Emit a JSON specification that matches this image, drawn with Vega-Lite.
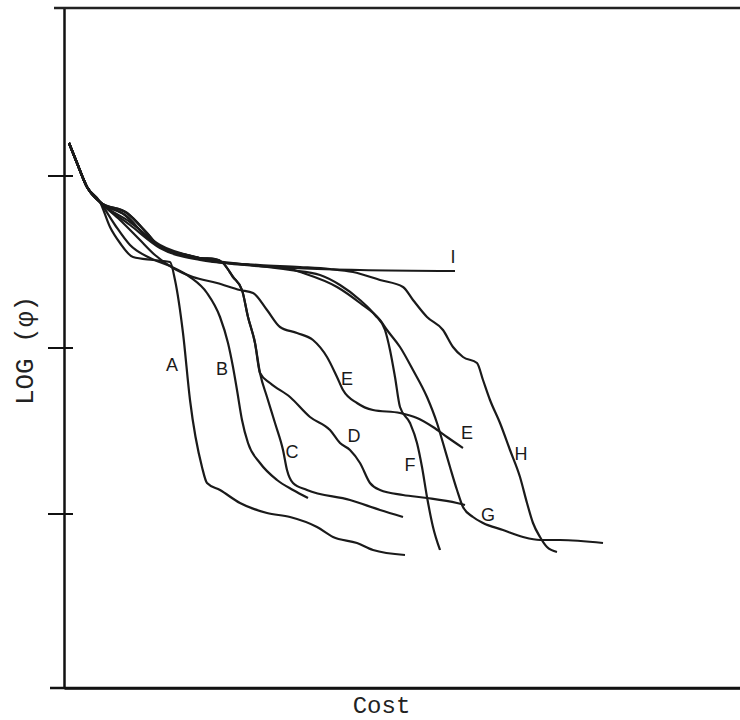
{
  "$schema": "https://vega.github.io/schema/vega-lite/v6.json",
  "width": 676,
  "height": 680,
  "autosize": {"type": "none"},
  "padding": {"left": 64, "top": 8, "right": 0, "bottom": 32},
  "background": "white",
  "view": {"stroke": null},
  "config": {"font": "Liberation Mono"},
  "datasets": {
    "curves": [
      {"c":"A","i":0,"x":5,"y":545},{"c":"A","i":1,"x":13,"y":525},{"c":"A","i":2,"x":23,"y":501},{"c":"A","i":3,"x":36,"y":486},{"c":"A","i":4,"x":46,"y":461},{"c":"A","i":5,"x":56,"y":445},{"c":"A","i":6,"x":69,"y":431},{"c":"A","i":7,"x":89,"y":428},{"c":"A","i":8,"x":106,"y":426},{"c":"A","i":9,"x":111,"y":408},{"c":"A","i":10,"x":119,"y":355},{"c":"A","i":11,"x":126,"y":288},{"c":"A","i":12,"x":138,"y":221},{"c":"A","i":13,"x":143,"y":205},{"c":"A","i":14,"x":156,"y":198},{"c":"A","i":15,"x":176,"y":185},{"c":"A","i":16,"x":203,"y":175},{"c":"A","i":17,"x":226,"y":171},{"c":"A","i":18,"x":253,"y":161},{"c":"A","i":19,"x":269,"y":151},{"c":"A","i":20,"x":293,"y":145},{"c":"A","i":21,"x":309,"y":138},{"c":"A","i":22,"x":341,"y":133},
      {"c":"B","i":0,"x":5,"y":545},{"c":"B","i":1,"x":13,"y":525},{"c":"B","i":2,"x":23,"y":501},{"c":"B","i":3,"x":36,"y":486},{"c":"B","i":4,"x":51,"y":463},{"c":"B","i":5,"x":66,"y":443},{"c":"B","i":6,"x":86,"y":430},{"c":"B","i":7,"x":106,"y":422},{"c":"B","i":8,"x":126,"y":411},{"c":"B","i":9,"x":143,"y":395},{"c":"B","i":10,"x":156,"y":371},{"c":"B","i":11,"x":164,"y":345},{"c":"B","i":12,"x":169,"y":321},{"c":"B","i":13,"x":173,"y":298},{"c":"B","i":14,"x":178,"y":268},{"c":"B","i":15,"x":184,"y":245},{"c":"B","i":16,"x":196,"y":225},{"c":"B","i":17,"x":213,"y":208},{"c":"B","i":18,"x":229,"y":198},{"c":"B","i":19,"x":244,"y":190},
      {"c":"C","i":0,"x":5,"y":545},{"c":"C","i":1,"x":13,"y":525},{"c":"C","i":2,"x":23,"y":501},{"c":"C","i":3,"x":36,"y":486},{"c":"C","i":4,"x":61,"y":473},{"c":"C","i":5,"x":86,"y":448},{"c":"C","i":6,"x":106,"y":436},{"c":"C","i":7,"x":136,"y":430},{"c":"C","i":8,"x":151,"y":429},{"c":"C","i":9,"x":159,"y":425},{"c":"C","i":10,"x":169,"y":411},{"c":"C","i":11,"x":178,"y":398},{"c":"C","i":12,"x":184,"y":371},{"c":"C","i":13,"x":191,"y":345},{"c":"C","i":14,"x":196,"y":315},{"c":"C","i":15,"x":203,"y":291},{"c":"C","i":16,"x":211,"y":265},{"c":"C","i":17,"x":219,"y":238},{"c":"C","i":18,"x":223,"y":218},{"c":"C","i":19,"x":229,"y":205},{"c":"C","i":20,"x":243,"y":198},{"c":"C","i":21,"x":286,"y":188},{"c":"C","i":22,"x":316,"y":178},{"c":"C","i":23,"x":339,"y":171},
      {"c":"D","i":0,"x":5,"y":545},{"c":"D","i":1,"x":13,"y":525},{"c":"D","i":2,"x":23,"y":501},{"c":"D","i":3,"x":36,"y":486},{"c":"D","i":4,"x":61,"y":473},{"c":"D","i":5,"x":86,"y":448},{"c":"D","i":6,"x":106,"y":436},{"c":"D","i":7,"x":136,"y":430},{"c":"D","i":8,"x":151,"y":429},{"c":"D","i":9,"x":159,"y":425},{"c":"D","i":10,"x":169,"y":411},{"c":"D","i":11,"x":178,"y":398},{"c":"D","i":12,"x":184,"y":371},{"c":"D","i":13,"x":191,"y":345},{"c":"D","i":14,"x":196,"y":315},{"c":"D","i":15,"x":206,"y":305},{"c":"D","i":16,"x":226,"y":291},{"c":"D","i":17,"x":246,"y":271},{"c":"D","i":18,"x":266,"y":258},{"c":"D","i":19,"x":276,"y":245},{"c":"D","i":20,"x":286,"y":238},{"c":"D","i":21,"x":296,"y":225},{"c":"D","i":22,"x":306,"y":205},{"c":"D","i":23,"x":316,"y":198},{"c":"D","i":24,"x":339,"y":193},{"c":"D","i":25,"x":363,"y":190},{"c":"D","i":26,"x":393,"y":185},{"c":"D","i":27,"x":401,"y":183},
      {"c":"E","i":0,"x":5,"y":545},{"c":"E","i":1,"x":13,"y":525},{"c":"E","i":2,"x":23,"y":501},{"c":"E","i":3,"x":36,"y":486},{"c":"E","i":4,"x":56,"y":468},{"c":"E","i":5,"x":76,"y":448},{"c":"E","i":6,"x":91,"y":433},{"c":"E","i":7,"x":109,"y":420},{"c":"E","i":8,"x":129,"y":411},{"c":"E","i":9,"x":153,"y":405},{"c":"E","i":10,"x":176,"y":398},{"c":"E","i":11,"x":189,"y":395},{"c":"E","i":12,"x":203,"y":378},{"c":"E","i":13,"x":216,"y":361},{"c":"E","i":14,"x":233,"y":355},{"c":"E","i":15,"x":249,"y":348},{"c":"E","i":16,"x":263,"y":331},{"c":"E","i":17,"x":273,"y":311},{"c":"E","i":18,"x":279,"y":298},{"c":"E","i":19,"x":293,"y":285},{"c":"E","i":20,"x":309,"y":278},{"c":"E","i":21,"x":336,"y":275},{"c":"E","i":22,"x":353,"y":270},{"c":"E","i":23,"x":369,"y":261},{"c":"E","i":24,"x":383,"y":251},{"c":"E","i":25,"x":399,"y":240},
      {"c":"F","i":0,"x":5,"y":545},{"c":"F","i":1,"x":13,"y":525},{"c":"F","i":2,"x":23,"y":501},{"c":"F","i":3,"x":36,"y":486},{"c":"F","i":4,"x":66,"y":463},{"c":"F","i":5,"x":96,"y":440},{"c":"F","i":6,"x":136,"y":428},{"c":"F","i":7,"x":186,"y":423},{"c":"F","i":8,"x":226,"y":418},{"c":"F","i":9,"x":256,"y":413},{"c":"F","i":10,"x":276,"y":403},{"c":"F","i":11,"x":296,"y":388},{"c":"F","i":12,"x":311,"y":373},{"c":"F","i":13,"x":321,"y":358},{"c":"F","i":14,"x":326,"y":338},{"c":"F","i":15,"x":331,"y":311},{"c":"F","i":16,"x":336,"y":281},{"c":"F","i":17,"x":346,"y":265},{"c":"F","i":18,"x":353,"y":245},{"c":"F","i":19,"x":358,"y":221},{"c":"F","i":20,"x":363,"y":191},{"c":"F","i":21,"x":369,"y":161},{"c":"F","i":22,"x":376,"y":138},
      {"c":"G","i":0,"x":5,"y":545},{"c":"G","i":1,"x":13,"y":525},{"c":"G","i":2,"x":23,"y":501},{"c":"G","i":3,"x":36,"y":486},{"c":"G","i":4,"x":66,"y":466},{"c":"G","i":5,"x":96,"y":443},{"c":"G","i":6,"x":136,"y":430},{"c":"G","i":7,"x":186,"y":423},{"c":"G","i":8,"x":226,"y":419},{"c":"G","i":9,"x":239,"y":415},{"c":"G","i":10,"x":273,"y":401},{"c":"G","i":11,"x":296,"y":385},{"c":"G","i":12,"x":316,"y":368},{"c":"G","i":13,"x":323,"y":358},{"c":"G","i":14,"x":336,"y":341},{"c":"G","i":15,"x":349,"y":318},{"c":"G","i":16,"x":363,"y":291},{"c":"G","i":17,"x":373,"y":265},{"c":"G","i":18,"x":379,"y":245},{"c":"G","i":19,"x":386,"y":221},{"c":"G","i":20,"x":393,"y":198},{"c":"G","i":21,"x":399,"y":181},{"c":"G","i":22,"x":409,"y":171},{"c":"G","i":23,"x":419,"y":165},{"c":"G","i":24,"x":439,"y":158},{"c":"G","i":25,"x":459,"y":151},{"c":"G","i":26,"x":476,"y":148},{"c":"G","i":27,"x":496,"y":148},{"c":"G","i":28,"x":539,"y":145},
      {"c":"H","i":0,"x":5,"y":545},{"c":"H","i":1,"x":13,"y":525},{"c":"H","i":2,"x":23,"y":501},{"c":"H","i":3,"x":36,"y":486},{"c":"H","i":4,"x":63,"y":475},{"c":"H","i":5,"x":83,"y":455},{"c":"H","i":6,"x":96,"y":441},{"c":"H","i":7,"x":123,"y":433},{"c":"H","i":8,"x":153,"y":426},{"c":"H","i":9,"x":196,"y":423},{"c":"H","i":10,"x":236,"y":421},{"c":"H","i":11,"x":266,"y":419},{"c":"H","i":12,"x":289,"y":416},{"c":"H","i":13,"x":316,"y":408},{"c":"H","i":14,"x":339,"y":401},{"c":"H","i":15,"x":349,"y":388},{"c":"H","i":16,"x":363,"y":371},{"c":"H","i":17,"x":379,"y":358},{"c":"H","i":18,"x":389,"y":341},{"c":"H","i":19,"x":399,"y":331},{"c":"H","i":20,"x":413,"y":325},{"c":"H","i":21,"x":419,"y":308},{"c":"H","i":22,"x":426,"y":288},{"c":"H","i":23,"x":436,"y":265},{"c":"H","i":24,"x":446,"y":238},{"c":"H","i":25,"x":456,"y":211},{"c":"H","i":26,"x":463,"y":185},{"c":"H","i":27,"x":469,"y":165},{"c":"H","i":28,"x":476,"y":151},{"c":"H","i":29,"x":483,"y":141},{"c":"H","i":30,"x":493,"y":136},
      {"c":"I","i":0,"x":5,"y":545},{"c":"I","i":1,"x":13,"y":525},{"c":"I","i":2,"x":23,"y":501},{"c":"I","i":3,"x":36,"y":486},{"c":"I","i":4,"x":63,"y":475},{"c":"I","i":5,"x":83,"y":455},{"c":"I","i":6,"x":96,"y":441},{"c":"I","i":7,"x":123,"y":433},{"c":"I","i":8,"x":153,"y":426},{"c":"I","i":9,"x":229,"y":420},{"c":"I","i":10,"x":296,"y":418},{"c":"I","i":11,"x":391,"y":417}
    ],
    "labels": [
      {"t":"A","x":108,"y":322},
      {"t":"B","x":158,"y":318},
      {"t":"C","x":228,"y":235},
      {"t":"D","x":290,"y":251},
      {"t":"E","x":283,"y":308},
      {"t":"E","x":403,"y":254},
      {"t":"F","x":346,"y":222},
      {"t":"G","x":424,"y":172},
      {"t":"H","x":457,"y":233},
      {"t":"I","x":389,"y":430}
    ],
    "ticks": [{"v":512},{"v":340},{"v":174}]
  },
  "layer": [
    {
      "data": {"name": "curves"},
      "mark": {"type": "line", "color": "#1a1a1a", "strokeWidth": 2.2, "interpolate": "monotone"},
      "encoding": {
        "x": {"field": "x", "type": "quantitative", "scale": {"domain": [0, 676], "nice": false, "zero": false},
              "axis": {"orient": "bottom", "title": "Cost", "labels": false, "ticks": false, "grid": false,
                       "domainColor": "#111", "domainWidth": 2.5,
                       "titleFont": "Liberation Mono", "titleFontSize": 24, "titleFontWeight": "normal", "titleColor": "#222",
                       "titleX": 317, "titleY": 17, "titleAlign": "center", "titleBaseline": "middle"}},
        "y": {"field": "y", "type": "quantitative", "scale": {"domain": [0, 680], "nice": false, "zero": false},
              "axis": {"orient": "left", "title": "LOG  (φ)", "labels": false, "ticks": false, "grid": false,
                       "domainColor": "#111", "domainWidth": 2.5,
                       "titleFont": "Liberation Mono", "titleFontSize": 26, "titleFontWeight": "normal", "titleColor": "#222",
                       "titleAngle": 270, "titleX": -40, "titleY": 342, "titleAlign": "center", "titleBaseline": "middle"}},
        "detail": {"field": "c", "type": "nominal"},
        "order": {"field": "i", "type": "quantitative"}
      }
    },
    {
      "data": {"name": "labels"},
      "mark": {"type": "text", "font": "Liberation Sans", "fontSize": 18, "color": "#1a1a1a", "align": "center", "baseline": "middle"},
      "encoding": {
        "x": {"field": "x", "type": "quantitative"},
        "y": {"field": "y", "type": "quantitative"},
        "text": {"field": "t", "type": "nominal"}
      }
    },
    {
      "data": {"name": "ticks"},
      "mark": {"type": "rule", "color": "#111", "strokeWidth": 2},
      "encoding": {
        "y": {"field": "v", "type": "quantitative"},
        "x": {"datum": -16},
        "x2": {"datum": 9}
      }
    },
    {
      "data": {"values": [{"v": 680}]},
      "mark": {"type": "rule", "color": "#222", "strokeWidth": 2.5},
      "encoding": {
        "y": {"field": "v", "type": "quantitative"},
        "x": {"datum": -10},
        "x2": {"datum": 676}
      }
    },
    {
      "data": {"values": [{"v": 0}]},
      "mark": {"type": "rule", "color": "#111", "strokeWidth": 2.5},
      "encoding": {
        "y": {"field": "v", "type": "quantitative"},
        "x": {"datum": -14},
        "x2": {"datum": 676}
      }
    }
  ]
}
